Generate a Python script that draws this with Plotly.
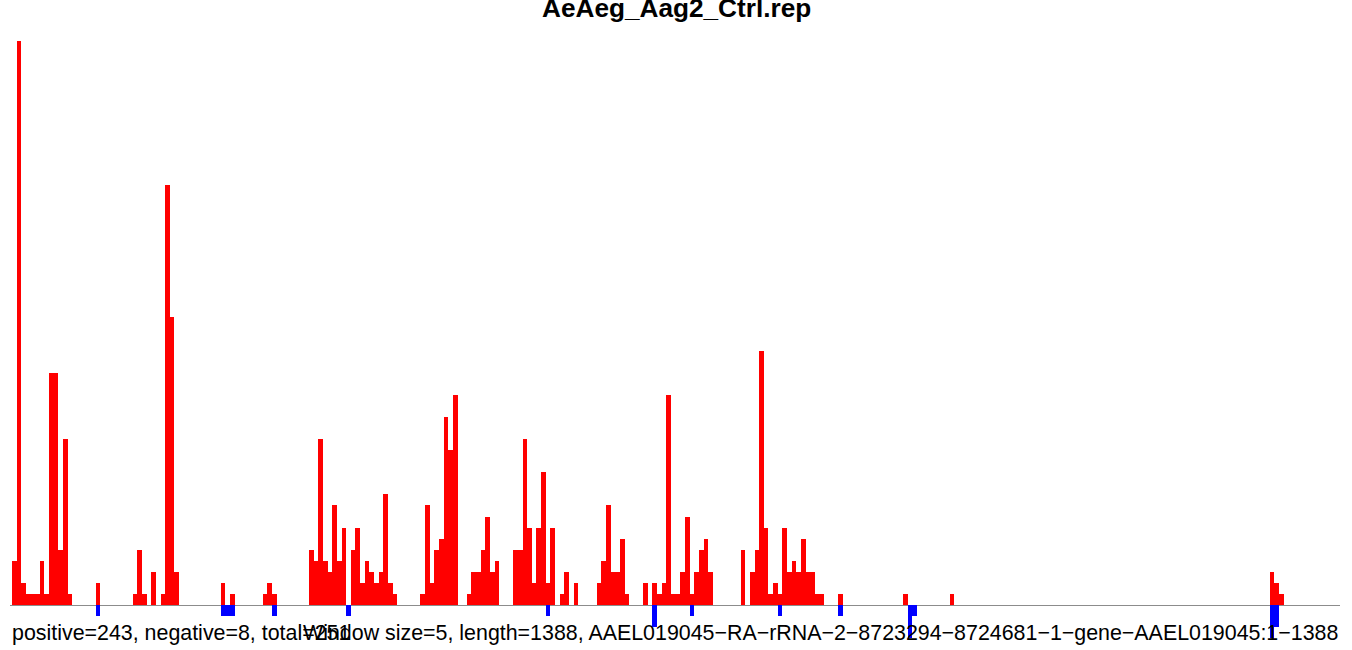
import plotly.graph_objects as go

WINDOW = 5
LENGTH = 1388
title_text = "AeAeg_Aag2_Ctrl.rep"
left_note = "positive=243, negative=8, total=251"
right_note = "Window size=5, length=1388, AAEL019045\u2212RA\u2212rRNA\u22122\u22128723294\u22128724681\u22121\u2212gene\u2212AAEL019045:1\u22121388"

# window index -> positive (sense) count
pos_window = [0, 1, 2, 3, 4, 5, 6, 7, 8, 9, 10, 11, 12,
              18,
              26, 27, 28, 30, 32, 33, 34, 35,
              45, 47,
              54, 55, 56,
              64, 65, 66, 67, 68, 69, 70, 71, 73, 74, 75, 76, 77, 78, 79, 80, 81, 82,
              88, 89, 90, 91, 92, 93, 94, 95,
              98, 99, 100, 101, 102, 103, 104,
              108, 109, 110, 111, 112, 113, 114, 115, 116,
              118, 119, 121,
              126, 127, 128, 129, 130, 131, 132,
              136, 138, 139, 140, 141, 142, 143, 144, 145, 146,
              147, 148, 149, 150,
              157, 159, 160, 161, 162, 163, 164, 165, 166, 167, 168, 169, 170, 171, 172, 173, 174,
              178, 192, 202,
              271, 272, 273]
pos_count = [4, 51, 2, 1, 1, 1, 4, 1, 21, 21, 5, 15, 1,
             2,
             1, 5, 1, 3, 1, 38, 26, 3,
             2, 1,
             1, 2, 1,
             5, 4, 15, 4, 3, 9, 4, 7, 5, 7, 2, 4, 3, 2, 3, 10, 2, 1,
             1, 9, 2, 5, 6, 17, 14, 19,
             1, 3, 3, 5, 8, 3, 4,
             5, 5, 15, 7, 2, 7, 12, 2, 7,
             1, 3, 2,
             2, 4, 9, 3, 3, 6, 1,
             2, 2, 1, 2, 19, 1, 1, 3, 8, 1,
             3, 5, 6, 3,
             5, 3, 5, 23, 7, 1, 2, 1, 7, 3, 4, 3, 6, 3, 3, 1, 1,
             1, 1, 1,
             3, 2, 1]

# window index -> negative (antisense) count
neg_window = [18, 45, 46, 47, 56, 72, 115, 138, 146, 165, 178, 193, 194, 271, 272]
neg_count = [1, 1, 1, 1, 1, 1, 1, 2, 1, 1, 1, 3, 1, 3, 2]

pos_x = [w * WINDOW + WINDOW / 2 for w in pos_window]
neg_x = [w * WINDOW + WINDOW / 2 for w in neg_window]

fig = go.Figure()
fig.add_trace(go.Bar(x=pos_x, y=pos_count, width=WINDOW,
                     marker=dict(color="#FF0000", line=dict(width=0)),
                     hoverinfo="x+y", name="positive"))
fig.add_trace(go.Bar(x=neg_x, y=[-v for v in neg_count], width=WINDOW,
                     marker=dict(color="#0000FF", line=dict(width=0)),
                     hoverinfo="x+y", name="negative"))

FONT = "Liberation Sans, Arial, Helvetica, sans-serif"
fig.update_layout(
    width=1352, height=650,
    margin=dict(l=10, r=12, t=0, b=0),
    paper_bgcolor="white", plot_bgcolor="white",
    barmode="overlay", bargap=0, showlegend=False,
    xaxis=dict(range=[-2.15, 1430.7], visible=False, fixedrange=True),
    yaxis=dict(range=[-4.069, 54.70], showgrid=False, showticklabels=False,
               ticks="", zeroline=True, zerolinecolor="#8c8c8c",
               zerolinewidth=1, showline=False, fixedrange=True),
    annotations=[
        dict(text="<b>" + title_text + "</b>", xref="paper", yref="paper",
             x=(676 - 10) / 1330, y=1 - 8.2 / 650, xanchor="center", yanchor="middle",
             showarrow=False, font=dict(family=FONT, size=26.2, color="black")),
        dict(text=left_note, xref="paper", yref="paper",
             x=0.0, y=1 - 632.5 / 650, xanchor="left", yanchor="middle",
             showarrow=False, font=dict(family=FONT, size=21.4, color="black")),
        dict(text=right_note, xref="paper", yref="paper",
             x=1.0, y=1 - 632.5 / 650, xanchor="right", yanchor="middle",
             showarrow=False, font=dict(family=FONT, size=21.4, color="black")),
    ],
)

fig.write_html("out.html", config={"displayModeBar": False},
               post_script="document.body.style.margin='0px';document.body.style.overflow='hidden';")
